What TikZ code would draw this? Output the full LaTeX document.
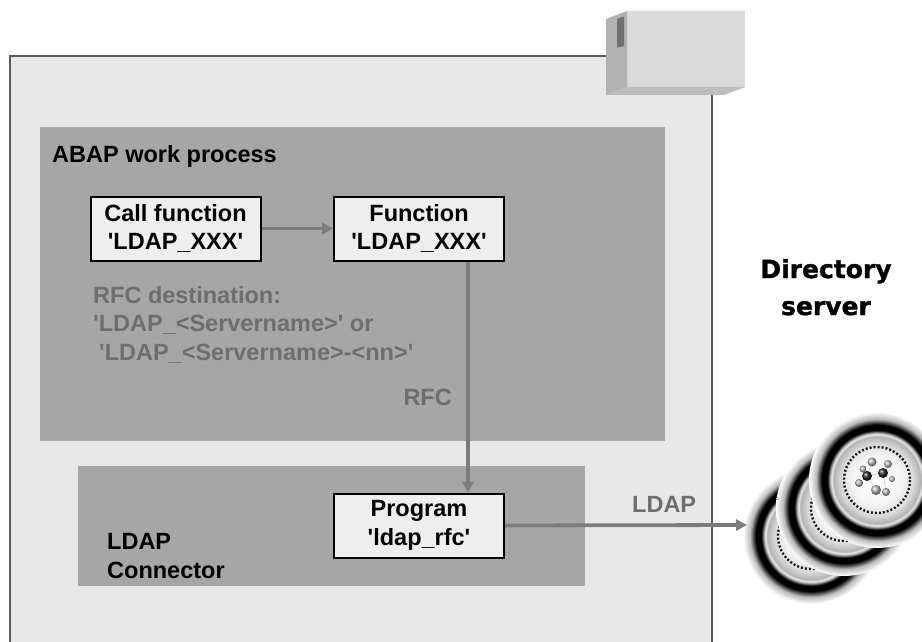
\documentclass[tikz,border=0pt]{standalone}
\usepackage{fontspec}
\setmainfont{Liberation Sans}
\newfontfamily\heavyfont{DejaVu Sans}[BoldFeatures={FakeBold=1.2}]
\usetikzlibrary{arrows.meta}
\newcommand\qmark{\textquotesingle}

\definecolor{panel}{HTML}{E8E8E8}
\definecolor{panelline}{HTML}{5C5C5C}
\definecolor{region}{HTML}{A6A6A6}
\definecolor{boxfill}{HTML}{EEEEEE}
\definecolor{flowgray}{HTML}{7C7C7C}
\definecolor{labelgray}{HTML}{6E6E6E}
\definecolor{srvfront}{HTML}{DADADA}
\definecolor{srvside}{HTML}{B2B2B2}
\definecolor{srvbottom}{HTML}{BEBEBE}
\definecolor{srvslot}{HTML}{6F6F6F}

% radial profile of one disk (25bp = rim of the filled circle):
% light centre, grey band, white rim, black ring, soft halo
\pgfdeclareradialshading{diskshade}{\pgfpoint{0bp}{0bp}}{%
  color(0bp)=(white);
  color(9bp)=(gray!8);
  color(12.5bp)=(gray!22);
  color(16.1bp)=(gray!60);
  color(16.7bp)=(gray!12);
  color(17.3bp)=(gray!65);
  color(18.3bp)=(black);
  color(20.3bp)=(black);
  color(22.4bp)=(gray!55);
  color(25bp)=(white);
  color(50bp)=(white)}

\begin{document}
\begin{tikzpicture}[x=1pt,y=-1pt,
  every node/.style={font=\fontsize{23.5}{28.5}\selectfont\bfseries, inner sep=0pt},
  procbox/.style={draw=black, line width=2pt, fill=boxfill, align=center,
                  minimum width=170pt, minimum height=64pt},
  flow/.style={draw=flowgray, line width=3.8pt, -{Triangle[length=11pt,width=11pt]}},
  note/.style={text=labelgray},
  disk/.style={shading=diskshade},
  dots/.style={draw=black!90, line width=2.4pt, dash pattern=on 2pt off 2pt},
  atomlight/.style={ball color=gray!55},
  atomdark/.style={ball color=black!85}]

\useasboundingbox (0,0) rectangle (922,642);
\fill[white] (0,0) rectangle (922,642);
\clip (0,0) rectangle (922,642);

% application server frame
\fill[panel] (10,56) rectangle (712,660);
\draw[panelline, line width=1.4pt] (10,660) -- (10,56) -- (712,56) -- (712,660);

% server cabinet
\fill[srvfront] (627,11) rectangle (745,87);
\fill[srvside] (606,19) -- (627,11) -- (627,87) -- (606,95) -- cycle;
\fill[srvbottom] (606,95) -- (627,87) -- (745,87) -- (724,95) -- cycle;
\fill[srvslot] (617,19) -- (624,16.5) -- (624,46) -- (617,47.5) -- cycle;

% work process and connector regions
\fill[region] (40,127) rectangle (665,441);
\fill[region] (78,466) rectangle (585,586);

\node[anchor=base west] (abaplabel) at (52,162) {ABAP work process};

\node[procbox] (call) at (175.5,228.5) {Call function\\\qmark LDAP\_XXX\qmark};
\node[procbox] (func) at (419,228.5) {Function\\\qmark LDAP\_XXX\qmark};
\node[procbox] (prog) at (419,525.5) {Program\\\qmark ldap\_rfc\qmark};

\node[note, anchor=base west] (dest1) at (93,303) {RFC destination:};
\node[note, anchor=base west] (dest2) at (93,331.5) {\qmark LDAP\_<Servername>\qmark{} or};
\node[note, anchor=base west] (dest3) at (99,360) {\qmark LDAP\_<Servername>-<nn>\qmark};

\node[note, anchor=base east] (rfclabel) at (452,405) {RFC};
\node[note, anchor=base west] (ldaplabel) at (632,512) {LDAP};

\node[anchor=base west] (conn1) at (107,549) {LDAP};
\node[anchor=base west] (conn2) at (107,578) {Connector};

% the base anchor of a multi-line node sits on its last line
\node[font=\fontsize{25}{37}\selectfont\heavyfont\bfseries, align=center, anchor=base]
  (dirlabel) at (826,315) {Directory\\server};

% directory server disks, back to front
\coordinate (d1) at (811,536);
\coordinate (d2) at (844,508);
\coordinate (d3) at (877,480);
\foreach \d in {d1,d2,d3}{
  \shade[disk] (\d) circle (68);
  \draw[dots] (\d) circle (33);
}
% molecule on the front disk
\draw[gray!45, line width=0.6pt] (867,476) -- (883,473) -- (888,464) (867,476) -- (859,483)
  (883,473) -- (886,492) (867,476) -- (876,490) (872,462) -- (867,476);
\shade[atomlight] (872,462) circle (4.5);
\shade[atomlight] (888,464) circle (4);
\shade[atomlight] (863,469) circle (3.5);
\shade[atomlight] (859,483) circle (4);
\shade[atomlight] (892,479) circle (3);
\shade[atomlight] (876,490) circle (5);
\shade[atomlight] (886,492) circle (4);
\shade[atomdark] (867,476) circle (5);
\shade[atomdark] (883,473) circle (5);

% connectors
\coordinate (ldaptip) at (747,525);
\draw[flow] (call.east) -- (func.west);
\draw[flow] ([xshift=49pt]func.south) -- ([xshift=49pt]prog.north);
\draw[flow] (prog.east) -- (ldaptip);
\end{tikzpicture}
\end{document}
